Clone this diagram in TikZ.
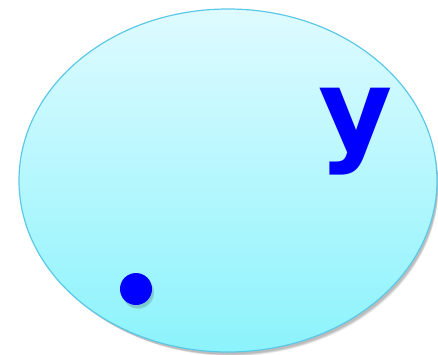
\documentclass[tikz,border=0pt]{standalone}
\usepackage{fontspec}
\setmainfont{DejaVu Sans}
\usetikzlibrary{shadings}
\definecolor{setTop}{RGB}{222,251,255}
\definecolor{setBot}{RGB}{140,243,252}
\definecolor{setEdge}{RGB}{92,200,232}
\definecolor{ptBlue}{RGB}{0,0,255}
\tikzset{
  setshape/.style={draw=setEdge, line width=1.2pt, top color=setTop, bottom color=setBot},
  shadowpart/.style={fill=black, opacity=0.06},
  dotshape/.style={circle, fill=ptBlue, inner sep=0pt, minimum size=32pt},
  letter/.style={text=ptBlue, font=\fontsize{114}{114}\selectfont\bfseries, inner sep=0pt, anchor=base}
}
\begin{document}
\begin{tikzpicture}[x=1pt,y=1pt]
\useasboundingbox (0,0) rectangle (438,354);
% soft shadow of the set
\foreach \d in {1,2,3,4,5}{
  \fill[shadowpart] (229+0.6*\d,171.5-0.9*\d) ellipse [x radius=209-\d*0.5, y radius=171.5-\d*0.5];
}
\path[setshape] (228,173.5) ellipse [x radius=209, y radius=171.5];
\node[letter] (y) at (356,204) {y};
% dot shadow
\foreach \d in {1,2,3}{
  \fill[shadowpart] (137+0.5*\d,63-0.8*\d) circle [radius=16.5-\d*0.3];
}
\node[dotshape] (p) at (136,65) {};
\end{tikzpicture}
\end{document}
